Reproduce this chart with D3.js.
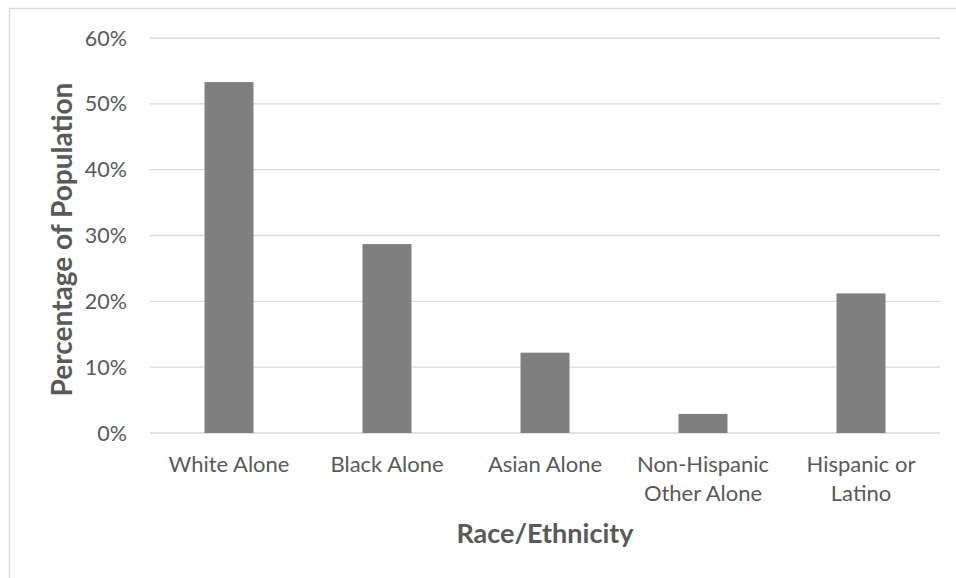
<!DOCTYPE html>
<html>
<head>
<meta charset="utf-8">
<script src="https://cdn.jsdelivr.net/npm/d3@7/dist/d3.min.js"></script>
<style>
  html, body { margin: 0; padding: 0; background: #fff; }
  svg { display: block; font-family: Lato, "Open Sans", sans-serif; }
</style>
</head>
<body>
<svg id="chart" width="956" height="578"></svg>
<script>
const categories = [["White Alone"], ["Black Alone"], ["Asian Alone"], ["Non-Hispanic", "Other Alone"], ["Hispanic or", "Latino"]];
const values = [0.533, 0.287, 0.122, 0.029, 0.212];
const yTicks = [0, 0.1, 0.2, 0.3, 0.4, 0.5, 0.6];
const xTitle = "Race/Ethnicity";
const yTitle = "Percentage of Population";

(function () {
const svg = d3.select("#chart");
const W = 956, H = 578;
const pLeft = 150, pRight = 940, pTop = 38, pBottom = 433;

// outer border
svg.append("rect").attr("x", 9.5).attr("y", 8.5).attr("width", W + 10).attr("height", H + 10)
  .attr("fill", "none").attr("stroke", "#d9d9d9").attr("stroke-width", 1.3);

const x = d3.scaleBand().domain(d3.range(categories.length)).range([pLeft, pRight])
  .paddingInner(0.69).paddingOuter(0.345);
const y = d3.scaleLinear().domain([0, 0.6]).range([pBottom, pTop]);

// gridlines
svg.append("g").selectAll("line").data(yTicks).join("line")
  .attr("x1", pLeft).attr("x2", pRight)
  .attr("y1", d => y(d)).attr("y2", d => y(d))
  .attr("stroke", "#d9d9d9").attr("stroke-width", 1.3);

// y tick labels
svg.append("g").selectAll("text").data(yTicks).join("text")
  .attr("x", 127).attr("y", d => y(d)).attr("dy", "0.35em")
  .attr("text-anchor", "end").attr("fill", "#595959").attr("font-size", 21.5)
  .text(d => d3.format(".0%")(d));

// bars
svg.append("g").selectAll("rect").data(values).join("rect")
  .attr("x", (d, i) => x(i)).attr("width", x.bandwidth())
  .attr("y", d => y(d)).attr("height", d => y(0) - y(d))
  .attr("fill", "#7f7f7f");

// x labels
const xl = svg.append("g").selectAll("text").data(categories).join("text")
  .attr("text-anchor", "middle").attr("fill", "#595959").attr("font-size", 22)
  .attr("x", (d, i) => x(i) + x.bandwidth() / 2).attr("y", 472);
xl.selectAll("tspan").data(d => d).join("tspan")
  .attr("x", function () { return this.parentNode.getAttribute("x"); })
  .attr("dy", (d, i) => i === 0 ? 0 : 29)
  .text(d => d);

// axis titles
svg.append("text").attr("x", (pLeft + pRight) / 2).attr("y", 543)
  .attr("text-anchor", "middle").attr("fill", "#595959").attr("font-size", 27).attr("font-weight", "bold")
  .text(xTitle);
svg.append("text").attr("transform", `translate(72,${(82 + 397) / 2}) rotate(-90)`)
  .attr("text-anchor", "middle").attr("fill", "#595959").attr("font-size", 28).attr("font-weight", "bold")
  .text(yTitle);
})();
</script>
</body>
</html>
